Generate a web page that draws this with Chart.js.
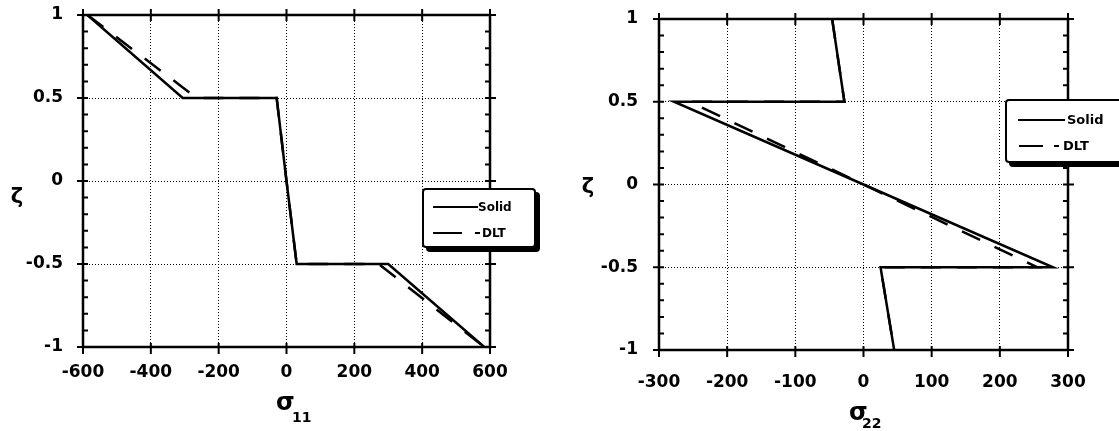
<!DOCTYPE html>
<html>
<head>
<meta charset="utf-8">
<script src="https://cdn.jsdelivr.net/npm/chart.js@4.4.1/dist/chart.umd.min.js"></script>
<style>
  html, body { margin: 0; padding: 0; background: #fff; overflow: hidden; }
  body { width: 1119px; height: 431px; position: relative; font-family: 'DejaVu Sans', sans-serif; font-weight: bold; color: #000; }
  canvas { position: absolute; top: 0; }
  #c1 { left: 0; }
  #c2 { left: 560px; }
  .lbl { position: absolute; line-height: 1; white-space: nowrap; }
  .zeta { font-size: 21px; transform: translate(-50%, -50%); }
  .sig { font-size: 24px; }
  .sub { font-size: 14px; }
  .legend { position: absolute; box-sizing: border-box; background: #fff; border: 2px solid #000; border-radius: 4px; box-shadow: 4px 4px 0 #000; }
  .legend .ln { position: absolute; height: 0; border-top: 2px solid #000; }
  .legend .tx { position: absolute; line-height: 1; white-space: nowrap; }
</style>
</head>
<body>
<canvas id="c1" width="560" height="431"></canvas>
<canvas id="c2" width="559" height="431"></canvas>

<div class="lbl zeta" style="left:17px;top:196px">ζ</div>
<div class="lbl sig" style="left:276px;top:390px">σ</div>
<div class="lbl sub" style="left:292px;top:410px">11</div>

<div class="lbl zeta" style="left:588px;top:186px">ζ</div>
<div class="lbl sig" style="left:849px;top:400px">σ</div>
<div class="lbl sub" style="left:862px;top:416px">22</div>

<div class="legend" style="left:422px;top:188px;width:114px;height:60px">
  <div class="ln" style="left:9px;top:16px;width:45px"></div>
  <div class="tx" style="left:54px;top:11px;font-size:12px">Solid</div>
  <div class="ln" style="left:9px;top:42px;width:29px"></div>
  <div class="ln" style="left:51px;top:42px;width:5px"></div>
  <div class="tx" style="left:58px;top:37px;font-size:12px">DLT</div>
</div>

<div class="legend" style="left:1005px;top:99px;width:124px;height:64px">
  <div class="ln" style="left:11px;top:18px;width:47px"></div>
  <div class="tx" style="left:60px;top:12px;font-size:13px">Solid</div>
  <div class="ln" style="left:12px;top:44px;width:24px"></div>
  <div class="ln" style="left:47px;top:44px;width:5px"></div>
  <div class="tx" style="left:56px;top:38px;font-size:13px">DLT</div>
</div>

<script>
// through-thickness coordinate (shared by both plots)
const zetaTicks = [-1, -0.5, 0, 0.5, 1];

// sigma_11 plot
const zeta11 = [1, 0.5, 0.5, 0, -0.5, -0.5, -1];
const sigma11Solid = [-587, -306, -29, 0, 30, 300, 583];
const sigma11Dlt = [-587, -265, -29, 0, 30, 272, 583];
const sigma11Ticks = [-600, -400, -200, 0, 200, 400, 600];

// sigma_22 plot
const zeta22 = [1, 0.5, 0.5, 0, -0.5, -0.5, -1];
const sigma22Solid = [-46, -28, -278, 0, 278, 25, 45];
const sigma22Dlt = [-46, -28, -255, 0, 255, 25, 45];
const sigma22Ticks = [-300, -200, -100, 0, 100, 200, 300];

const tickFont = { family: 'DejaVu Sans', weight: 'bold', size: 17 };

// box around the plot, crossing major ticks, small inward minor ticks on zeta
const frame = {
  id: 'frame',
  afterDatasetsDraw(chart) {
    const { ctx, chartArea: a } = chart;
    const x = chart.scales.x, y = chart.scales.y;
    ctx.save();
    ctx.strokeStyle = '#000';
    ctx.lineWidth = 2.5;
    ctx.strokeRect(a.left, a.top, a.right - a.left, a.bottom - a.top);
    ctx.lineWidth = 2;
    ctx.beginPath();
    x.ticks.forEach(t => {
      const px = x.getPixelForValue(t.value);
      ctx.moveTo(px, a.bottom - 4); ctx.lineTo(px, a.bottom + 7);
      ctx.moveTo(px, a.top - 6); ctx.lineTo(px, a.top + 6);
    });
    for (let i = 0; i <= 20; i++) {
      const py = y.getPixelForValue(-1 + i * 0.1);
      const major = i % 5 === 0;
      ctx.moveTo(a.left - (major ? 6 : 0), py); ctx.lineTo(a.left + 5, py);
      ctx.moveTo(a.right + (major ? 6 : 0), py); ctx.lineTo(a.right - 5, py);
    }
    ctx.stroke();
    ctx.restore();
  }
};

function pts(xs, ys) {
  return xs.map((v, i) => ({ x: v, y: ys[i] }));
}

function makePlot(id, solid, dlt, zeta, xTicks, box) {
  new Chart(document.getElementById(id), {
    type: 'scatter',
    data: {
      datasets: [{
        label: 'Solid',
        data: pts(solid, zeta),
        showLine: true,
        borderColor: '#000',
        borderWidth: 2.5,
        pointRadius: 0
      }, {
        label: 'DLT',
        data: pts(dlt, zeta),
        showLine: true,
        borderColor: '#000',
        borderWidth: 2.5,
        borderDash: [20, 16],
        pointRadius: 0
      }]
    },
    options: {
      responsive: false,
      animation: false,
      events: [],
      layout: { padding: { top: box.top, right: box.right, bottom: 0, left: 0 } },
      plugins: { legend: { display: false }, tooltip: { enabled: false } },
      scales: {
        x: {
          type: 'linear',
          min: xTicks[0],
          max: xTicks[xTicks.length - 1],
          afterBuildTicks: s => { s.ticks = xTicks.map(v => ({ value: v })); },
          afterFit: s => { s.height = box.xh; s.paddingLeft = 0; s.paddingRight = 0; },
          ticks: { font: tickFont, color: '#000', padding: box.xpad, maxRotation: 0 },
          grid: { color: '#000', lineWidth: 1, drawTicks: false },
          border: { display: false, dash: [1, 2] }
        },
        y: {
          type: 'linear',
          min: -1,
          max: 1,
          afterBuildTicks: s => { s.ticks = zetaTicks.map(v => ({ value: v })); },
          afterFit: s => { s.width = box.yw; s.paddingTop = 0; s.paddingBottom = 0; },
          ticks: { font: tickFont, color: '#000', padding: box.ypad, callback: v => String(v) },
          grid: { color: '#000', lineWidth: 1, drawTicks: false },
          border: { display: false, dash: [1, 2] }
        }
      }
    },
    plugins: [frame]
  });
}

makePlot('c1', sigma11Solid, sigma11Dlt, zeta11, sigma11Ticks,
  { top: 15, right: 70, xh: 84, yw: 83, xpad: 15, ypad: 20 });
makePlot('c2', sigma22Solid, sigma22Dlt, zeta22, sigma22Ticks,
  { top: 19, right: 51, xh: 81, yw: 99, xpad: 22, ypad: 21 });
</script>
</body>
</html>
